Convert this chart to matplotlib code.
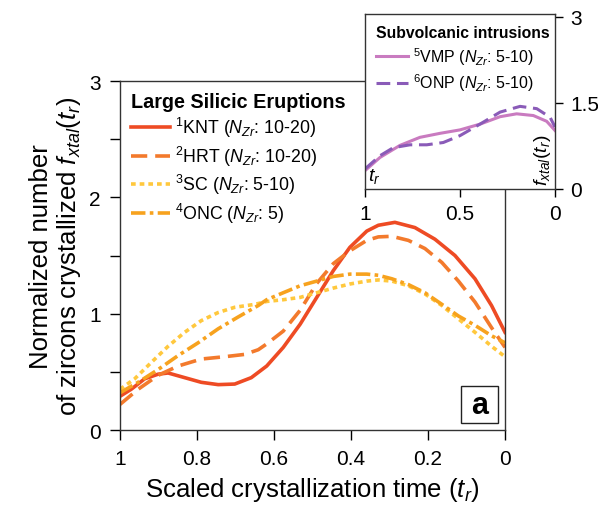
import matplotlib
matplotlib.use("Agg")
import matplotlib.pyplot as plt
from matplotlib.patches import Rectangle
from matplotlib.ticker import MultipleLocator

plt.rcParams['font.family'] = ['Liberation Sans', 'DejaVu Sans']
plt.rcParams['mathtext.fontset'] = 'custom'
plt.rcParams['mathtext.rm'] = 'Liberation Sans'
plt.rcParams['mathtext.it'] = 'Liberation Sans:italic'
plt.rcParams['mathtext.bf'] = 'Liberation Sans:bold'

# large silicic eruptions
knt_x = [1.0, 0.971, 0.936, 0.901, 0.875, 0.832, 0.789, 0.745, 0.702, 0.659, 0.619, 0.576, 0.532,
         0.489, 0.446, 0.403, 0.359, 0.329, 0.286, 0.234, 0.182, 0.130, 0.078, 0.035, 0.0]
knt_y = [0.29, 0.35, 0.44, 0.48, 0.49, 0.45, 0.41, 0.39, 0.395, 0.45, 0.55, 0.71, 0.91,
         1.14, 1.37, 1.57, 1.71, 1.76, 1.785, 1.74, 1.64, 1.50, 1.30, 1.07, 0.84]
hrt_x = [1.0, 0.953, 0.901, 0.849, 0.789, 0.728, 0.676, 0.641, 0.619, 0.576, 0.532, 0.489, 0.446,
         0.403, 0.359, 0.329, 0.294, 0.251, 0.208, 0.164, 0.121, 0.078, 0.035, 0.0]
hrt_y = [0.22, 0.35, 0.47, 0.55, 0.61, 0.63, 0.65, 0.69, 0.74, 0.85, 1.03, 1.26, 1.43,
         1.54, 1.63, 1.66, 1.665, 1.63, 1.56, 1.44, 1.28, 1.10, 0.88, 0.71]
sc_x = [1.0, 0.962, 0.919, 0.875, 0.832, 0.789, 0.745, 0.702, 0.650, 0.619, 0.576, 0.532, 0.489,
        0.446, 0.403, 0.359, 0.329, 0.294, 0.251, 0.208, 0.164, 0.121, 0.078, 0.035, 0.0]
sc_y = [0.35, 0.44, 0.58, 0.72, 0.84, 0.94, 1.01, 1.055, 1.08, 1.105, 1.12, 1.14, 1.18,
        1.22, 1.255, 1.28, 1.29, 1.28, 1.24, 1.17, 1.07, 0.955, 0.84, 0.72, 0.63]
onc_x = [1.0, 0.953, 0.901, 0.849, 0.797, 0.745, 0.694, 0.641, 0.619, 0.576, 0.532, 0.489, 0.446,
         0.403, 0.359, 0.329, 0.294, 0.251, 0.208, 0.164, 0.121, 0.078, 0.035, 0.0]
onc_y = [0.32, 0.41, 0.52, 0.64, 0.75, 0.87, 0.97, 1.07, 1.12, 1.18, 1.24, 1.28, 1.32,
         1.34, 1.34, 1.33, 1.30, 1.25, 1.18, 1.08, 0.98, 0.90, 0.81, 0.75]

# subvolcanic intrusions
vmp_x = [1.0, 0.921, 0.816, 0.711, 0.605, 0.5, 0.395, 0.289, 0.202, 0.114, 0.044, 0.0]
vmp_y = [0.32, 0.55, 0.76, 0.90, 0.97, 1.03, 1.13, 1.26, 1.31, 1.28, 1.18, 1.02]
onp_x = [1.0, 0.921, 0.851, 0.763, 0.675, 0.588, 0.5, 0.395, 0.289, 0.184, 0.096, 0.026, 0.0]
onp_y = [0.35, 0.58, 0.72, 0.77, 0.77, 0.81, 0.93, 1.13, 1.34, 1.44, 1.40, 1.25, 1.08]

fig = plt.figure(figsize=(5.98, 5.10), dpi=100)
ax = fig.add_axes([0.2007, 0.1549, 0.6438, 0.6843])

lw = 2.6
common = dict(lw=lw, solid_joinstyle='round', dash_joinstyle='round')
ax.plot(knt_x, knt_y, color='#EE4B24', label=r'$^{1}$KNT ($N_{Zr}$: 10-20)', **common)
ax.plot(hrt_x, hrt_y, color='#F37A2C', dashes=(4.5, 2.2),
        label=r'$^{2}$HRT ($N_{Zr}$: 10-20)', **common)
ax.plot(sc_x, sc_y, color='#FFC83D', dashes=(1.3, 1.1),
        label=r'$^{3}$SC ($N_{Zr}$: 5-10)', **common)
ax.plot(onc_x, onc_y, color='#F7A21E', dashes=(4, 1.2, 1, 1.2),
        label=r'$^{4}$ONC ($N_{Zr}$: 5)', **common)

ax.set_xlim(1, 0)
ax.set_ylim(0, 3)
ax.set_xticks([1, 0.8, 0.6, 0.4, 0.2, 0])
ax.set_xticklabels(['1', '0.8', '0.6', '0.4', '0.2', '0'])
ax.set_yticks([0, 1, 2, 3])
ax.set_yticklabels(['0', '1', '2', '3'])
ax.yaxis.set_minor_locator(MultipleLocator(0.5))
ax.tick_params(axis='both', which='both', direction='out', labelsize=15, length=7, width=1, pad=7)
for s in ax.spines.values():
    s.set_linewidth(1)
    s.set_color('#333333')

ax.set_xlabel(r'Scaled crystallization time ($t_r$)', fontsize=18.5, labelpad=5)
ax.set_ylabel('Normalized number\n' + r'of zircons crystallized $f_{xtal}(t_r)$',
              fontsize=18.5, labelpad=4, linespacing=1.1)

leg = ax.legend(loc='upper left', bbox_to_anchor=(0.0, 1.0), frameon=False, fontsize=12.8,
                title='Large Silicic Eruptions', title_fontproperties={'weight': 'bold', 'size': 14.2},
                handlelength=2.2, handletextpad=0.3, labelspacing=0.25, borderaxespad=0.3,
                borderpad=0.3)
leg._legend_box.align = 'left'

ax.add_patch(Rectangle((0.886, 0.02), 0.096, 0.106, transform=ax.transAxes,
                       fc='white', ec='#222222', lw=1, zorder=5))
ax.text(0.934, 0.073, 'a', transform=ax.transAxes, fontsize=22, fontweight='bold',
        ha='center', va='center', zorder=6)

# inset
ins = fig.add_axes([0.6104, 0.6275, 0.3177, 0.3431])
ins.plot(vmp_x, vmp_y, color='#C97BC0', lw=2.2, solid_joinstyle='round',
         label=r'$^{5}$VMP ($N_{Zr}$: 5-10)')
ins.plot(onp_x, onp_y, color='#8A5BB8', lw=2.2, dashes=(4.5, 2.2), dash_joinstyle='round',
         label=r'$^{6}$ONP ($N_{Zr}$: 5-10)')
ins.set_xlim(1, 0)
ins.set_ylim(0, 3.05)
ins.set_xticks([1, 0.5, 0])
ins.set_xticklabels(['1', '0.5', '0'])
ins.set_yticks([0, 1.5, 3])
ins.set_yticklabels(['0', '1.5', '3'])
ins.yaxis.tick_right()
ins.tick_params(axis='both', direction='out', labelsize=15, length=6, width=1, pad=5)
for s in ins.spines.values():
    s.set_linewidth(1)
    s.set_color('#333333')
ins.text(0.015, 0.02, r'$t_r$', transform=ins.transAxes, fontsize=14, ha='left', va='bottom')
ins.text(0.99, 0.02, r'$f_{xtal}(t_r)$', transform=ins.transAxes, fontsize=14,
         rotation=90, ha='right', va='bottom')
leg2 = ins.legend(loc='upper left', frameon=False, fontsize=11.5,
                  title='Subvolcanic intrusions', title_fontproperties={'weight': 'bold', 'size': 11.3},
                  handlelength=2.0, handletextpad=0.3, labelspacing=0.3, borderaxespad=0.3)
leg2._legend_box.align = 'left'

fig.savefig('out.png', dpi=100)
